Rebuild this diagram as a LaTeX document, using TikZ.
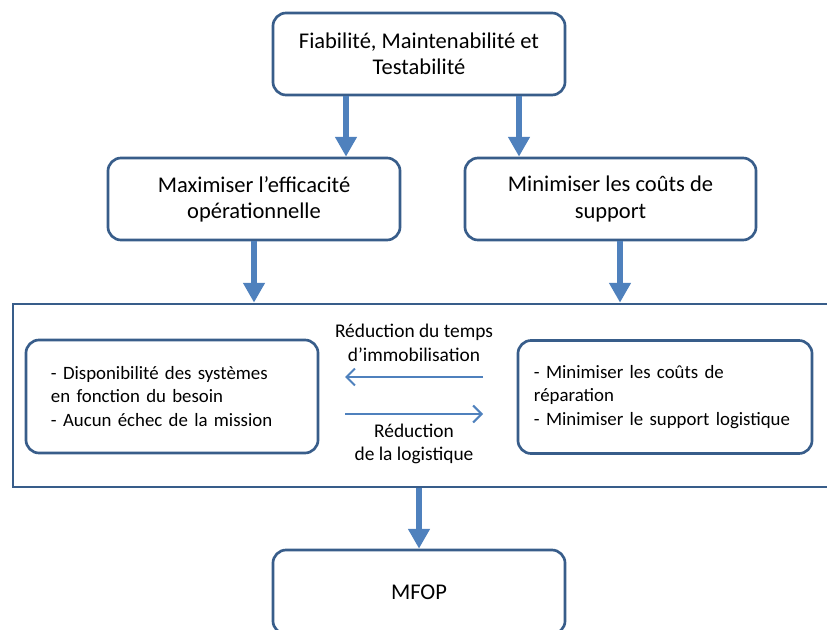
\documentclass[tikz,border=0pt]{standalone}
\usepackage{fontspec}
\setmainfont{Carlito}
\usetikzlibrary{arrows.meta}

\definecolor{lineblue}{HTML}{385D8A}
\definecolor{arrowblue}{HTML}{4F81BD}

\tikzset{
  box/.style={draw=lineblue, line width=1.9pt, rounded corners=0.33cm, fill=white,
    align=center, minimum width=7.3cm, minimum height=2.05cm,
    font=\fontsize{16pt}{18.5pt}\selectfont},
  listbox/.style={box, align=left, inner xsep=0.4cm, minimum height=2.825cm,
    font=\fontsize{13.4pt}{16.7pt}\selectfont},
  bigarrow/.style={draw=arrowblue, line width=4.7pt, -{Triangle[width=14.7pt,length=14pt]}},
  thinarrow/.style={draw=arrowblue, line width=1.4pt, -{Straight Barb[length=6pt,width=12pt]}},
  lbl/.style={align=center, font=\fontsize{13.8pt}{16.7pt}\selectfont},
}

\begin{document}
\begin{tikzpicture}[x=0.025cm,y=-0.025cm]
\useasboundingbox (0,0) rectangle (827,630);

% top and middle row
\node[box] (fmt) at (419,54) {Fiabilité, Maintenabilité et\\Testabilité};
\node[box] (eff) at (254,199) {Maximiser l’efficacité\\opérationnelle};
\node[box, minimum width=7.275cm] (sup) at (610.5,199) {Minimiser les coûts de\\support};

% frame with the two lists
\node[draw=lineblue, line width=1.9pt, minimum width=20.425cm, minimum height=4.575cm] (frame) at (421.5,395.5) {};
\node[listbox, text width=6.05cm] (disp) at (172,396.5)
  {- Disponibilité des systèmes\\en fonction du besoin\\- Aucun échec de la mission};
\node[listbox, text width=6.55cm] (cout) at (665,397)
  {- Minimiser les coûts de\\réparation\\- Minimiser le support logistique};

\coordinate (immoR) at (483,377);
\coordinate (immoL) at (345,377);
\coordinate (logiL) at (345,414);
\coordinate (logiR) at (483,414);
\draw[thinarrow] (immoR) -- (immoL);
\draw[thinarrow] (logiL) -- (logiR);
\node[lbl] (immo) at (414,343) {Réduction du temps\\d’immobilisation};
\node[lbl] (logi) at (414,444) {Réduction\\de la logistique};

\node[box, minimum height=2.1cm] (mfop) at (419,592) {MFOP};

% thick arrows
\draw[bigarrow] (fmt.south -| 346,0) -- (eff.north -| 346,0);
\draw[bigarrow] (fmt.south -| 519,0) -- (sup.north -| 519,0);
\draw[bigarrow] (eff.south) -- (frame.north -| eff.south);
\draw[bigarrow] (sup.south -| 620,0) -- (frame.north -| 620,0);
\draw[bigarrow] (frame.south -| mfop.north) -- (mfop.north);

\end{tikzpicture}
\end{document}
